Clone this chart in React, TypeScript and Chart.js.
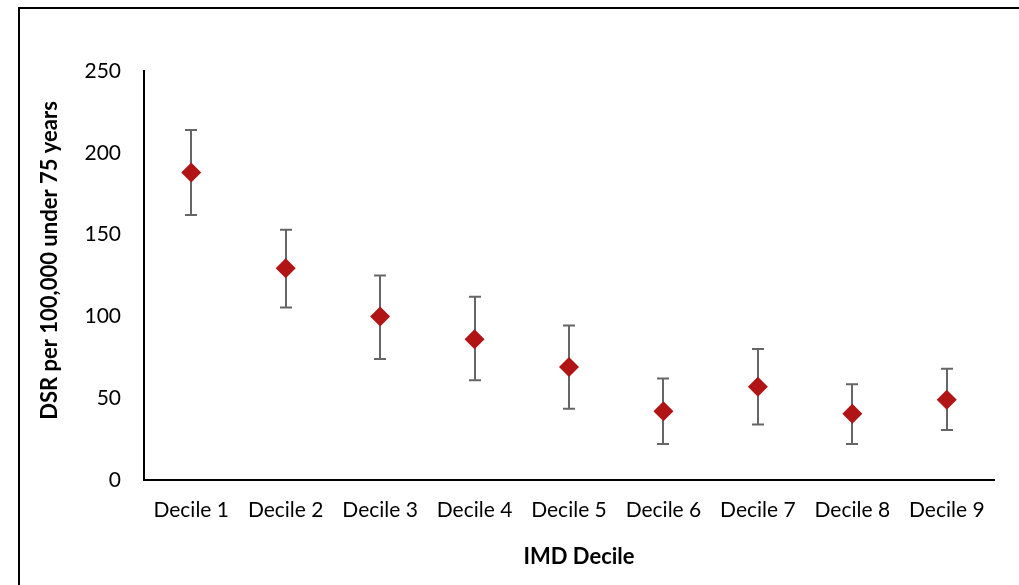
import React, { useEffect, useRef } from "react";
import { Chart, registerables } from "chart.js";

Chart.register(...registerables);

// IMD deciles on the x axis
const deciles = ["Decile 1", "Decile 2", "Decile 3", "Decile 4", "Decile 5", "Decile 6", "Decile 7", "Decile 8", "Decile 9"];
// Directly standardised rate per 100,000 (under 75 years)
const dsr = [188, 129.5, 100, 86, 69, 42, 57, 40.5, 49];
// 95% confidence interval bounds
const lowerCI = [162, 105.5, 74, 61, 43.5, 22, 34, 22, 30.5];
const upperCI = [214, 153, 125, 112, 94.5, 62, 80, 58.5, 68];
// Value axis ticks
const yMin = 0;
const yMax = 250;
const yStep = 50;
const yTitle = "DSR per 100,000 under 75 years";
const xTitle = "IMD Decile";

const FONT = "Lato, 'Open Sans', sans-serif";

// Draws vertical error bars with caps beneath the markers
const errorBarPlugin = {
  id: "errorBars",
  beforeDatasetsDraw(chart: any) {
    const { ctx, scales } = chart;
    const xs = scales.x;
    const ys = scales.y;
    ctx.save();
    ctx.strokeStyle = "#666666";
    ctx.lineWidth = 2;
    const cap = 6;
    deciles.forEach((_, i) => {
      const x = Math.round(xs.getPixelForValue(i));
      const yLo = ys.getPixelForValue(lowerCI[i]);
      const yHi = ys.getPixelForValue(upperCI[i]);
      ctx.beginPath();
      ctx.moveTo(x, yLo);
      ctx.lineTo(x, yHi);
      ctx.moveTo(x - cap, yHi);
      ctx.lineTo(x + cap, yHi);
      ctx.moveTo(x - cap, yLo);
      ctx.lineTo(x + cap, yLo);
      ctx.stroke();
    });
    ctx.restore();
  },
};

// Axis titles, each nudged off the plot's middle
const axisTitlePlugin = {
  id: "axisTitles",
  afterDraw(chart: any) {
    const { ctx, chartArea } = chart;
    ctx.save();
    ctx.font = `bold 22px ${FONT}`;
    ctx.fillStyle = "#000000";
    ctx.textAlign = "center";
    ctx.textBaseline = "middle";
    ctx.fillText(xTitle, (chartArea.left + chartArea.right) / 2 + 10, 557);
    ctx.translate(50, (chartArea.top + chartArea.bottom) / 2 - 15);
    ctx.rotate(-Math.PI / 2);
    ctx.fillText(yTitle, 0, 0);
    ctx.restore();
  },
};

export default function App() {
  const canvasRef = useRef<HTMLCanvasElement | null>(null);

  useEffect(() => {
    const canvas = canvasRef.current;
    if (!canvas) return;
    const chart = new Chart(canvas, {
      type: "line",
      data: {
        labels: deciles,
        datasets: [
          {
            label: "DSR",
            data: dsr,
            showLine: false,
            pointStyle: "rectRot",
            pointRadius: 10,
            pointHoverRadius: 10,
            pointBorderWidth: 0,
            pointBackgroundColor: "#B01414",
            pointBorderColor: "#B01414",
          },
        ],
      },
      options: {
        responsive: false,
        animation: false,
        devicePixelRatio: 1,
        layout: { padding: { left: 0, top: 71, right: 25, bottom: 0 } },
        plugins: {
          legend: { display: false },
          tooltip: { enabled: false },
        },
        scales: {
          x: {
            type: "category",
            offset: true,
            grid: { display: false, drawTicks: false },
            border: { display: true, color: "#000000", width: 2 },
            ticks: {
              color: "#000000",
              padding: 18,
              maxRotation: 0,
              autoSkip: false,
              font: { family: FONT, size: 21 },
            },
            afterFit(axis: any) {
              axis.height = 105;
            },
          },
          y: {
            min: yMin,
            max: yMax,
            grid: { display: false, drawTicks: false },
            border: { display: true, color: "#000000", width: 2 },
            ticks: {
              stepSize: yStep,
              color: "#000000",
              padding: 23,
              font: { family: FONT, size: 21 },
            },
            afterFit(axis: any) {
              axis.width = 144;
            },
          },
        },
      },
      plugins: [errorBarPlugin, axisTitlePlugin],
    });
    return () => chart.destroy();
  }, []);

  return (
    <div style={{ position: "fixed", left: 0, top: 0, width: 1019, height: 585, overflow: "hidden", background: "#ffffff" }}>
      <div
        style={{
          position: "absolute",
          left: 18,
          top: 7,
          width: 1100,
          height: 700,
          borderLeft: "2px solid #000000",
          borderTop: "2px solid #000000",
        }}
      />
      <canvas ref={canvasRef} width={1019} height={585} style={{ position: "absolute", left: 0, top: 0 }} />
    </div>
  );
}
